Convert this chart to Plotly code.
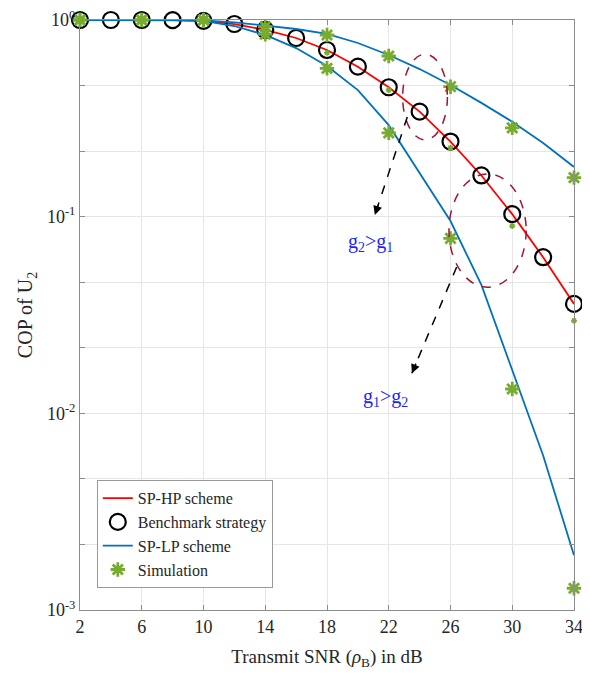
import math
import plotly.graph_objects as go

# ---------------- data ----------------
snr = [2, 4, 6, 8, 10, 12, 14, 16, 18, 20, 22, 24, 26, 28, 30, 32, 34]
sp_hp = [1.0, 1.0, 1.0, 0.998, 0.99, 0.954, 0.89, 0.81, 0.704, 0.579, 0.455,
         0.342, 0.241, 0.162, 0.103, 0.0622, 0.036]
benchmark = [1.0, 1.0, 1.0, 0.998, 0.99, 0.954, 0.89, 0.81, 0.704, 0.579, 0.455,
             0.342, 0.241, 0.162, 0.103, 0.0622, 0.036]
sp_lp_g2 = [1.0, 1.0, 1.0, 0.999, 0.995, 0.973, 0.935, 0.90, 0.85, 0.764, 0.664,
            0.563, 0.467, 0.379, 0.304, 0.237, 0.179]
sp_lp_g1 = [1.0, 1.0, 1.0, 0.998, 0.99, 0.932, 0.84, 0.72, 0.584, 0.44, 0.292,
            0.166, 0.095, 0.045, 0.0166, 0.0061, 0.0019]

sim_snr = [2, 6, 10, 14, 18, 22, 26, 30, 34]
sim_g2 = [1.0, 1.0, 1.0, 0.925, 0.839, 0.656, 0.458, 0.283, 0.158]
sim_g1 = [1.0, 1.0, 1.0, 0.846, 0.568, 0.267, 0.0776, 0.0133, 0.00129]
sim_hp_snr = [18, 22, 26, 30, 34]
sim_hp = [0.682, 0.44, 0.224, 0.0897, 0.0296]

x_ticks = [2, 6, 10, 14, 18, 22, 26, 30, 34]
y_decades = [-3, -2, -1, 0]

# annotation geometry in data units (dB, COP)
ellipse_a = (22.9, 25.8, 0.246, 0.67)
ellipse_b = (25.9, 30.9, 0.0438, 0.165)
arrow_a = ((23.2, 0.321), (21.1, 0.102))
arrow_b = ((26.4, 0.0555), (23.5, 0.016))
label_a = (20.8, 0.0735, "g<sub>2</sub>>g<sub>1</sub>")
label_b = (23.4, 0.012, "g<sub>1</sub>>g<sub>2</sub>")

XMIN, XMAX = 2, 34
YMIN, YMAX = -3, 0
# the page body adds an 8px margin, so the figure is 8px smaller
W, H = 582, 666
ML, MR, MT, MB = 72, 16, 12, 64
PW, PH = W - ML - MR, H - MT - MB


def px(x):
    return (x - XMIN) / (XMAX - XMIN)


def py(y):
    return (math.log10(y) - YMIN) / (YMAX - YMIN)


FONT = "Liberation Serif"
RED = "#FF0000"
BLUE = "#0072BD"
GREEN = "#77AC30"
DARKRED = "#A2142F"

fig = go.Figure()
fig.add_trace(go.Scatter(x=snr, y=sp_hp, mode="lines", name="SP-HP scheme",
                         line=dict(color=RED, width=1.8), cliponaxis=False))
fig.add_trace(go.Scatter(x=snr, y=benchmark, mode="markers", name="Benchmark strategy",
                         marker=dict(symbol="circle-open", size=16, color="black",
                                     line=dict(width=2.2, color="black")),
                         cliponaxis=False))
fig.add_trace(go.Scatter(x=snr, y=sp_lp_g2, mode="lines", name="SP-LP scheme",
                         line=dict(color=BLUE, width=1.8), cliponaxis=False))
fig.add_trace(go.Scatter(x=snr, y=sp_lp_g1, mode="lines", name="SP-LP scheme",
                         showlegend=False,
                         line=dict(color=BLUE, width=1.8), cliponaxis=False))
fig.add_trace(go.Scatter(x=sim_snr, y=sim_g2, mode="markers", name="Simulation",
                         marker=dict(symbol="asterisk-open", size=12, color=GREEN,
                                     line=dict(width=2.8, color=GREEN)),
                         cliponaxis=False))
fig.add_trace(go.Scatter(x=sim_snr, y=sim_g1, mode="markers", name="Simulation",
                         showlegend=False,
                         marker=dict(symbol="asterisk-open", size=12, color=GREEN,
                                     line=dict(width=2.8, color=GREEN)),
                         cliponaxis=False))
fig.add_trace(go.Scatter(x=sim_hp_snr, y=sim_hp, mode="markers", name="Simulation",
                         showlegend=False,
                         marker=dict(symbol="asterisk-open", size=5, color=GREEN,
                                     line=dict(width=1.5, color=GREEN)),
                         cliponaxis=False))

shapes = []
for (x0, x1, y0, y1) in (ellipse_a, ellipse_b):
    shapes.append(dict(type="circle", xref="paper", yref="paper",
                       x0=px(x0), x1=px(x1), y0=py(y0), y1=py(y1),
                       line=dict(color=DARKRED, width=1.5, dash="dash")))

annotations = []
for (start, end) in (arrow_a, arrow_b):
    shapes.append(dict(type="line", xref="paper", yref="paper",
                       x0=px(start[0]), y0=py(start[1]),
                       x1=px(end[0]), y1=py(end[1]),
                       line=dict(color="black", width=1.5, dash="dash")))
    dxp = (px(end[0]) - px(start[0])) * PW
    dyp = -(py(end[1]) - py(start[1])) * PH
    L = math.hypot(dxp, dyp)
    annotations.append(dict(xref="paper", yref="paper", x=px(end[0]), y=py(end[1]),
                            ax=-dxp / L * 12, ay=-dyp / L * 12, text="",
                            showarrow=True, arrowhead=2, arrowsize=1.2,
                            arrowwidth=1.5, arrowcolor="black"))

for (lx, ly, txt) in (label_a, label_b):
    annotations.append(dict(xref="paper", yref="paper", x=px(lx), y=py(ly), text=txt,
                            showarrow=False,
                            font=dict(family=FONT, size=20, color="#1F1FFF")))

ytickvals = [10 ** d for d in y_decades]
yticktext = ["10<sup>%d</sup>" % d for d in y_decades]
yminorvals = [10 ** (k / 3) for k in range(3 * YMIN, 3 * YMAX + 1) if k % 3 != 0]

fig.update_layout(
    width=W, height=H,
    margin=dict(l=ML, r=MR, t=MT, b=MB),
    paper_bgcolor="white", plot_bgcolor="white",
    font=dict(family=FONT, size=18, color="#262626"),
    shapes=shapes, annotations=annotations,
    legend=dict(x=0.034, y=0.22, xanchor="left", yanchor="top",
                bgcolor="white", bordercolor="#999999", borderwidth=1,
                font=dict(family=FONT, size=16, color="#262626"),
                tracegroupgap=0, itemwidth=30),
    showlegend=True,
)
fig.update_xaxes(range=[XMIN, XMAX], tickvals=x_ticks, showgrid=True, automargin=False,
                 gridcolor="#E6E6E6", gridwidth=1, zeroline=False,
                 showline=True, linecolor="#8C8C8C", linewidth=1, mirror="ticks",
                 ticks="inside", ticklen=5, tickcolor="#8C8C8C",
                 tickfont=dict(size=18), ticklabeloverflow="allow",
                 title=dict(text="Transmit SNR (<i>ρ</i><sub>B</sub>) in dB",
                            font=dict(size=19), standoff=14))
fig.update_yaxes(type="log", range=[YMIN, YMAX], tickvals=ytickvals, ticktext=yticktext,
                 showgrid=True, gridcolor="#E6E6E6", gridwidth=1, zeroline=False,
                 automargin=False, ticklabeloverflow="allow",
                 showline=True, linecolor="#8C8C8C", linewidth=1, mirror="ticks",
                 ticks="inside", ticklen=5, tickcolor="#8C8C8C",
                 tickfont=dict(size=18),
                 minor=dict(tickvals=yminorvals, showgrid=True, gridcolor="#E6E6E6",
                            ticks="inside", ticklen=5, tickcolor="#8C8C8C"),
                 title=dict(text="COP of U<sub>2</sub>", font=dict(size=20), standoff=8))

fig.write_html("out.html")
